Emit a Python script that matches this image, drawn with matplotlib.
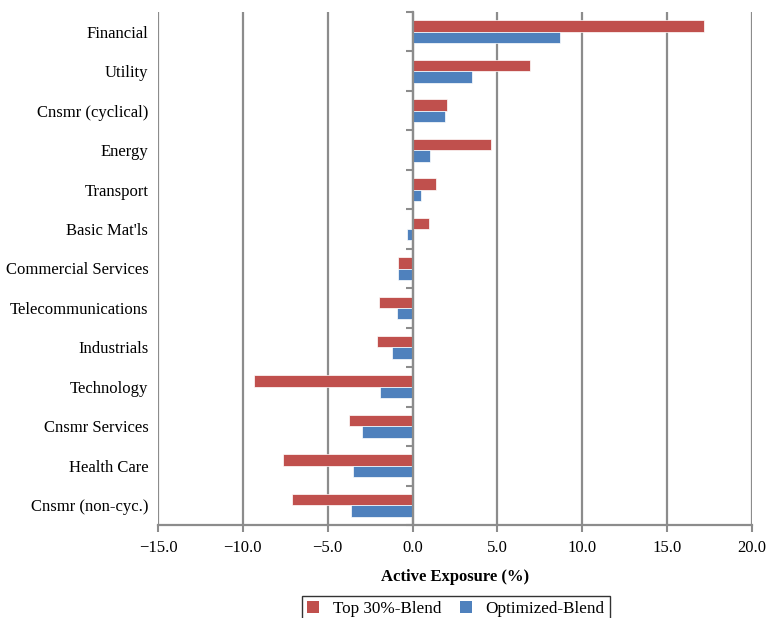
import matplotlib
matplotlib.use("Agg")
import matplotlib.pyplot as plt
import numpy as np
from matplotlib.patches import Patch

categories = ["Financial", "Utility", "Cnsmr (cyclical)", "Energy", "Transport",
              "Basic Mat'ls", "Commercial Services", "Telecommunications",
              "Industrials", "Technology", "Cnsmr Services", "Health Care",
              "Cnsmr (non-cyc.)"]
top30 = [17.2, 6.9, 2.0, 4.6, 1.4, 0.95, -0.87, -2.0, -2.1, -9.35, -3.75, -7.65, -7.1]
optimized = [8.7, 3.5, 1.9, 1.0, 0.5, -0.35, -0.83, -0.93, -1.2, -1.9, -3.0, -3.5, -3.65]
xticks = [-15, -10, -5, 0, 5, 10, 15, 20]

red = "#C0504D"
blue = "#4F81BD"
grid = "#8C8C8C"

plt.rcParams['font.family'] = ['Liberation Serif', 'DejaVu Serif']

fig = plt.figure(figsize=(7.69, 6.18), dpi=100)
ax = fig.add_axes([158/769, 1-525/618, (752-158)/769, (525-12)/618])

y = np.arange(len(categories))
h = 0.29
ax.barh(y - h/2, top30, height=h, color=red, edgecolor="white", linewidth=0.5, zorder=3)
ax.barh(y + h/2, optimized, height=h, color=blue, edgecolor="white", linewidth=0.5, zorder=3)

ax.set_xlim(-15, 20)
ax.set_ylim(len(categories) - 0.5, -0.5)
ax.set_xticks(xticks)
ax.set_xticklabels([f"{v:.1f}".replace("-", "\u2212") for v in xticks], fontsize=12)
ax.set_yticks(y)
ax.set_yticklabels(categories, fontsize=12)
ax.tick_params(axis='y', length=0, pad=7)
ax.tick_params(axis='x', length=5, width=1.5, color=grid, direction='out', pad=6)
for v in xticks:
    ax.axvline(v, color=grid, lw=1.6, zorder=1)
for s in ['top', 'right', 'left']:
    ax.spines[s].set_visible(False)
ax.spines['bottom'].set_color(grid)
ax.spines['bottom'].set_linewidth(1.6)

ax2 = ax.twinx()
ax2.set_ylim(len(categories) - 0.5, -0.5)
for s in ['top', 'right', 'bottom']:
    ax2.spines[s].set_visible(False)
ax2.spines['left'].set_position(('data', 0))
ax2.spines['left'].set_color(grid)
ax2.spines['left'].set_linewidth(1.6)
ax2.yaxis.set_ticks_position('left')
ax2.set_yticks(np.arange(len(categories) + 1) - 0.5)
ax2.set_yticklabels([])
ax2.tick_params(axis='y', length=5, width=1.5, color=grid, direction='out')

ax.set_xlabel("Active Exposure (%)", fontsize=12, fontweight='bold', labelpad=9)

handles = [Patch(facecolor=red, edgecolor='none'), Patch(facecolor=blue, edgecolor='none')]
leg = fig.legend(handles, ["Top 30%-Blend", "Optimized-Blend"], loc='upper left',
                 bbox_to_anchor=(302/769, 1-596/618), borderaxespad=0, ncol=2, fontsize=12.3,
                 frameon=True, fancybox=False, edgecolor='black', handlelength=0.7,
                 handleheight=0.7, columnspacing=1.1, borderpad=0.3, handletextpad=0.8)
leg.get_frame().set_linewidth(1.0)

fig.savefig("out.png", dpi=100)
